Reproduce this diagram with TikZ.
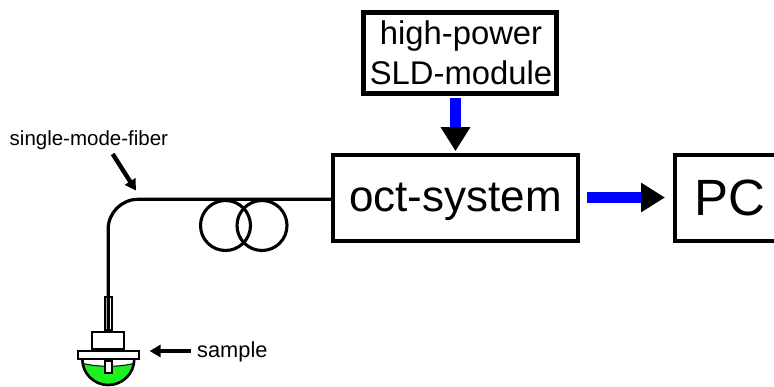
\documentclass[tikz,border=0pt]{standalone}
\usepackage{fontspec}
\setmainfont{Liberation Sans}
\usetikzlibrary{arrows.meta,calc}
\definecolor{sgreen}{RGB}{30,240,30}
\tikzset{
  box/.style={draw,fill=white,line width=#1,inner sep=0pt,anchor=north west,align=center},
  fiber/.style={line width=3.2bp,line cap=butt,rounded corners=30bp},
  coil/.style={draw,circle,line width=3.1bp,minimum size=50bp,inner sep=0pt},
  part/.style={draw,fill=white,line width=2bp,inner sep=0pt,anchor=north west},
  bigarrow/.style={draw=blue,line width=11.5bp,-{Triangle[length=24bp,width=28bp,color=black]}},
  tagarrow/.style={line width=#1,-{Triangle[length=11bp,width=12bp]}},
  lbl/.style={inner sep=0pt,anchor=base west}
}
\begin{document}
\begin{tikzpicture}[x=1bp,y=-1bp]
\useasboundingbox (0,0) rectangle (774,386);
% boxes
\node[box=5.4bp,minimum width=192.6bp,minimum height=80.6bp,font=\fontsize{32.8bp}{40bp}\selectfont] (sld) at (361,10) {\hspace*{2bp}high-power\\\hspace*{2bp}SLD-module};
\node[box=4.2bp,minimum width=244.8bp,minimum height=85.8bp] (oct) at (331,152.7) {};
\node[font=\fontsize{44bp}{50bp}\selectfont,inner sep=0pt,anchor=base] (octt) at (455.5,211) {oct-system};
\node[box=4.2bp,minimum width=110bp,minimum height=85.8bp] (pc) at (672.7,152.7) {};
\node[font=\fontsize{51bp}{56bp}\selectfont,inner sep=0pt,anchor=base] (pct) at (730,215) {PC};
\useasboundingbox (0,0) rectangle (774,386);
% thick arrows
\draw[bigarrow,shorten <=2bp,shorten >=1.5bp] (sld.south -| oct.north) -- (oct.north);
\coordinate (pcin) at (pc.west |- 0,197.5);
\coordinate (octout) at (oct.east |- 0,197.5);
\draw[bigarrow,shorten <=7bp,shorten >=7.7bp] (octout) -- (pcin);
% coils
\node[coil] (c1) at (225.5,225.5) {};
\node[coil] (c2) at (262,225.5) {};
% sample head
\begin{scope}
\clip (82.3,359) .. controls (82.3,373.4) and (93.9,385) .. (108.3,385) .. controls (122.7,385) and (134.3,373.4) .. (134.3,359) -- cycle;
\fill[sgreen] (80,362.5) .. controls (95,367.5) and (122,367.5) .. (137,362.5) -- (137,387) -- (80,387) -- cycle;
\draw[line width=1bp] (80,362.5) .. controls (95,367.5) and (122,367.5) .. (137,362.5);
\end{scope}
\draw[line width=2.6bp] (82.3,359) .. controls (82.3,373.4) and (93.9,385) .. (108.3,385) .. controls (122.7,385) and (134.3,373.4) .. (134.3,359);
\node[part,minimum width=6.3bp,minimum height=12.3bp] (tip) at (104.2,359.5) {};
\node[part,minimum width=61.3bp,minimum height=8.8bp] (flange) at (76.8,349.5) {};
\node[part,minimum width=32.3bp,minimum height=17.8bp] (cap) at (91,330.5) {};
\node[part,minimum width=6.8bp,minimum height=33.8bp] (tube) at (104,295.5) {};
% fiber
\draw[fiber] (oct.west |- 0,199.3) -- (cap.north |- 0,199.3) -- (cap.north);
% labels
\node[lbl,font=\fontsize{20.5bp}{24bp}\selectfont] (fl) at (9.5,145.5) {single-mode-fiber};
\node[lbl,font=\fontsize{21.8bp}{24bp}\selectfont] (sl) at (197,357.5) {sample};
\coordinate (fs) at (112.7,154);
\coordinate (fe) at (136,190.7);
\draw[tagarrow=4.4bp] (fs) -- (fe);
\coordinate (ss) at (191,351);
\draw[tagarrow=3.8bp,shorten >=9.5bp] (ss) -- (flange.east |- 0,351);
\end{tikzpicture}
\end{document}
